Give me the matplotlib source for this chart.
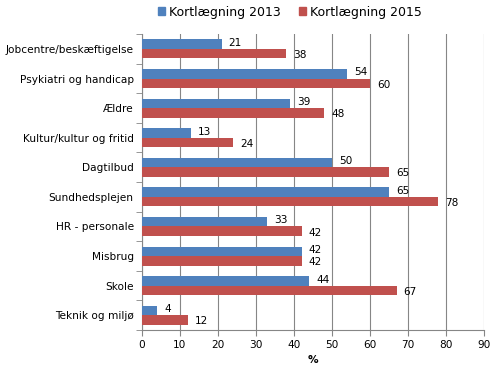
import numpy as np
import matplotlib
matplotlib.use("Agg")
import matplotlib.pyplot as plt
from matplotlib.patches import Patch

categories = [
    "Jobcentre/beskæftigelse",
    "Psykiatri og handicap",
    "Ældre",
    "Kultur/kultur og fritid",
    "Dagtilbud",
    "Sundhedsplejen",
    "HR - personale",
    "Misbrug",
    "Skole",
    "Teknik og miljø",
]
values_2013 = [21, 54, 39, 13, 50, 65, 33, 42, 44, 4]
values_2015 = [38, 60, 48, 24, 65, 78, 42, 42, 67, 12]
series_labels = ["Kortlægning 2013", "Kortlægning 2015"]
xticks = list(range(0, 91, 10))

BLUE = "#4F81BD"
RED = "#C0504D"
GRID = "#868686"

plt.rcParams["font.family"] = ["DejaVu Sans"]
plt.rcParams["font.size"] = 7.6

fig = plt.figure(figsize=(5.01, 3.67), dpi=100)
ax = fig.add_axes([0.2834, 0.1008, 0.966 - 0.2834, 0.907 - 0.1008])

n = len(categories)
y = np.arange(n)
h = 0.32
ax.barh(y - h / 2, values_2013, height=h, color=BLUE, zorder=3)
ax.barh(y + h / 2, values_2015, height=h, color=RED, zorder=3)

for yi, v in zip(y, values_2013):
    ax.annotate(str(v), (v, yi - h / 2), xytext=(5, 1), textcoords="offset points",
                va="center", ha="left", fontsize=7.6)
for yi, v in zip(y, values_2015):
    ax.annotate(str(v), (v, yi + h / 2), xytext=(5, -1), textcoords="offset points",
                va="center", ha="left", fontsize=7.6)

ax.set_xlim(0, 90)
ax.set_ylim(n - 0.5, -0.5)
ax.set_xticks(xticks)
ax.set_yticks(y)
ax.set_yticklabels(categories)
ax.set_yticks(np.arange(-0.5, n, 1), minor=True)
ax.tick_params(axis="y", which="major", length=0, pad=6)
ax.tick_params(axis="y", which="minor", length=4, color=GRID)
ax.tick_params(axis="x", length=4, color=GRID, pad=3)
ax.grid(axis="x", color=GRID, linewidth=0.8, zorder=0)
for s in ["top", "right"]:
    ax.spines[s].set_visible(False)
for s in ["left", "bottom"]:
    ax.spines[s].set_color(GRID)
ax.set_xlabel("%", fontweight="bold", labelpad=4)

handles = [Patch(color=BLUE), Patch(color=RED)]
fig.legend(handles, series_labels, loc="center", bbox_to_anchor=(0.579, 0.967), ncol=2,
           frameon=False, fontsize=9, handlelength=0.55, handleheight=0.55,
           handletextpad=0.3, columnspacing=1.5)

fig.savefig("out.png", dpi=100)
